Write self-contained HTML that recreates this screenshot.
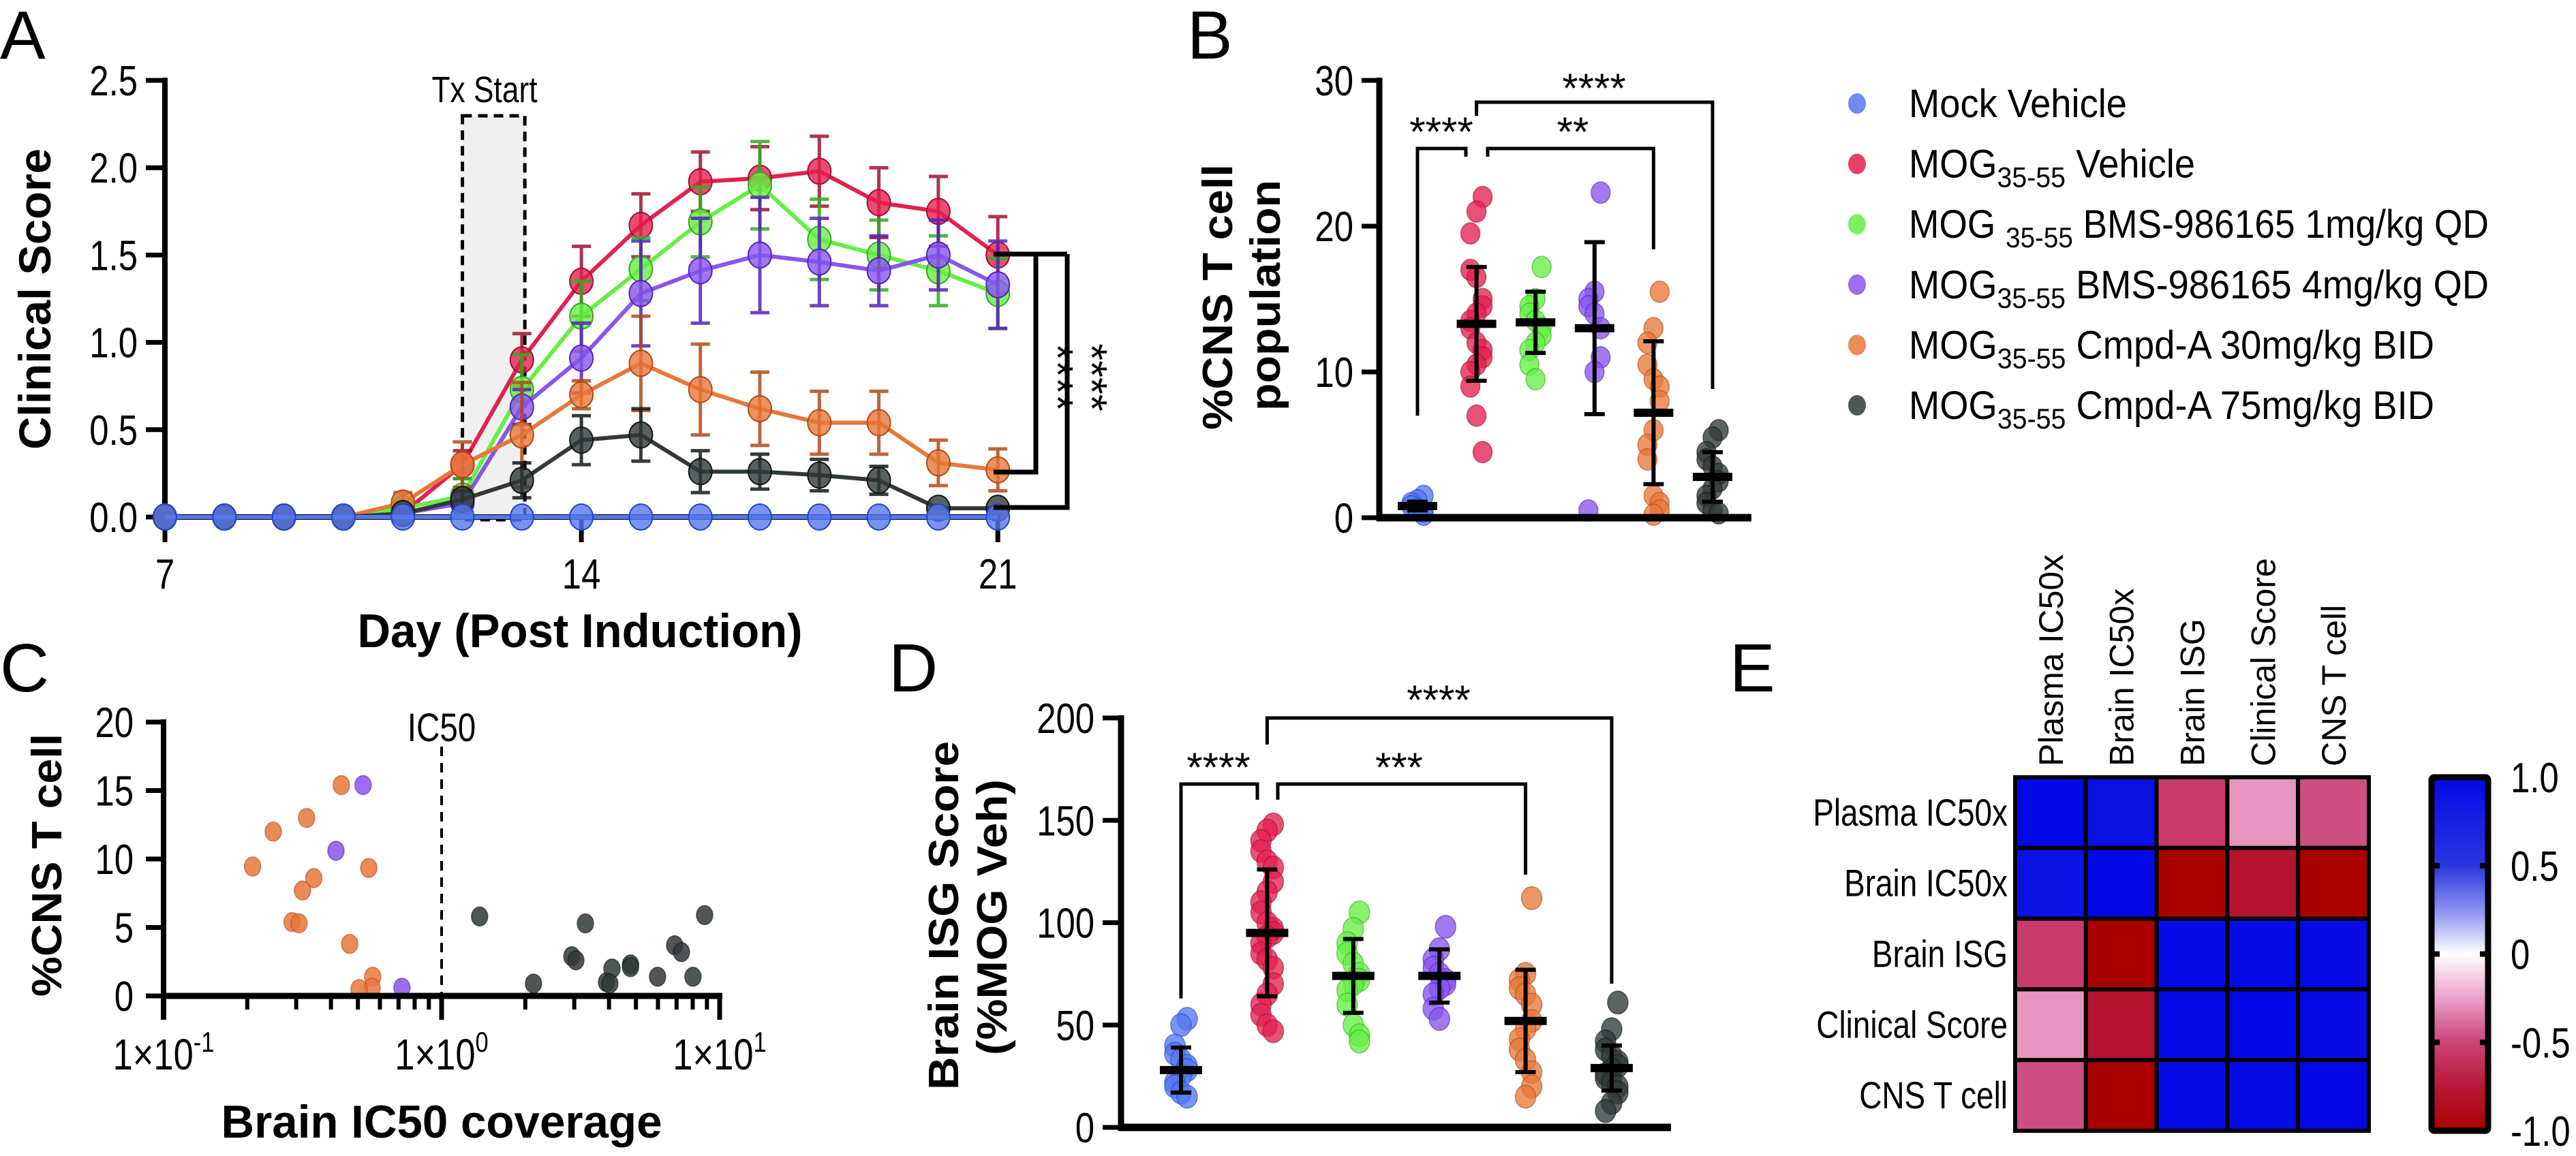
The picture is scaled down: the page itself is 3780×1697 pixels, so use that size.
<!DOCTYPE html>
<html><head><meta charset="utf-8"><style>
html,body{margin:0;padding:0;background:#fff;width:3780px;height:1697px;overflow:hidden}
svg{display:block}
text{font-family:"Liberation Sans Narrow","Liberation Sans",sans-serif;fill:#000}
.b{font-weight:bold}
.w{font-family:"Liberation Sans",sans-serif}
</style></head><body>
<svg id="fig" xmlns="http://www.w3.org/2000/svg" width="3780" height="1697" viewBox="0 0 3780 1697">
<defs>
<linearGradient id="cbar" x1="0" y1="0" x2="0" y2="1">
<stop offset="0" stop-color="#0508e6"/><stop offset="0.25" stop-color="#2a36e0"/><stop offset="0.375" stop-color="#8a8ff0"/><stop offset="0.5" stop-color="#ffffff"/><stop offset="0.625" stop-color="#eaa0c8"/><stop offset="0.75" stop-color="#cc4478"/><stop offset="0.875" stop-color="#b81838"/><stop offset="1" stop-color="#aa0000"/>
</linearGradient>
</defs>
</svg>
<script>
// ---------- DATA ----------
const groupNames=["Mock Vehicle","MOG35-55 Vehicle","MOG35-55 BMS-986165 1mg/kg QD","MOG35-55 BMS-986165 4mg/kg QD","MOG35-55 Cmpd-A 30mg/kg BID","MOG35-55 Cmpd-A 75mg/kg BID"];
const groupColors=["#5577ee","#e3204f","#66ee44","#8855ee","#e8773a","#2f3a38"];
const groupStroke=["#2244cc","#a01030","#33aa22","#5522bb","#b04a18","#111818"];
// Panel A
const days=[7,8,9,10,11,12,13,14,15,16,17,18,19,20,21];
const aMock=[0,0,0,0,0,0,0,0,0,0,0,0,0,0,0];
const aVeh=[0,0,0,0,0.02,0.3,0.9,1.35,1.67,1.92,1.94,1.98,1.8,1.75,1.5];
const aVehErr=[0,0,0,0,0.02,0.08,0.15,0.2,0.18,0.17,0.18,0.2,0.2,0.2,0.22];
const aB1=[0,0,0,0,0.05,0.12,0.73,1.15,1.42,1.69,1.9,1.59,1.5,1.41,1.28];
const aB1Err=[0,0,0,0,0.04,0.1,0.2,0.2,0.18,0.2,0.25,0.23,0.2,0.2,0.2];
const aB4=[0,0,0,0,0.02,0.08,0.63,0.91,1.28,1.41,1.5,1.46,1.41,1.5,1.33];
const aB4Err=[0,0,0,0,0.02,0.05,0.1,0.2,0.3,0.3,0.33,0.25,0.2,0.2,0.25];
const aA30=[0,0,0,0,0.08,0.3,0.47,0.7,0.88,0.73,0.62,0.54,0.54,0.31,0.27];
const aA30Err=[0,0,0,0,0.06,0.13,0.3,0.08,0.27,0.26,0.21,0.18,0.18,0.13,0.12];
const aA75=[0,0,0,0,0.02,0.1,0.21,0.44,0.47,0.26,0.26,0.24,0.21,0.05,0.05];
const aA75Err=[0,0,0,0,0.02,0.05,0.1,0.14,0.15,0.12,0.1,0.09,0.08,0,0];
const aYTicks=[0,0.5,1.0,1.5,2.0,2.5];
const aYTickLabels=["0.0","0.5","1.0","1.5","2.0","2.5"];
const aXTicks=[7,14,21];
const txStartDay=12, txEndDay=13.05;
// Panel B
const bPts=[
 [1.5,1.2,1.0,0.8,0.6,0.4,0.2],
 [22,21,19.5,17,16.5,15,14.5,14,13.5,13,12,11.5,11,10.5,10,9,7,4.5],
 [17.2,15,14.5,14,13.5,13,12.5,12,11.5,10.5,9.5],
 [22.3,15.5,15,14.5,14,13,11,10,0.5],
 [15.5,13,12,10.5,9.5,9,8,6,5,4,1.5,1,0.5,0.2],
 [6,5.5,4.5,4,3.5,3,2.5,2,1.5,1,0.5,0.3]];
const bMean=[0.8,13.3,13.4,13.0,7.2,2.8];
const bSD=[0.3,3.9,2.1,5.9,4.9,1.7];
const bYTicks=[0,10,20,30];
// Panel C
const cOrX=[0.436,0.327,0.248,0.209,0.547,0.347,0.316,0.29,0.307,0.467,0.565,0.562,0.505];
const cOrY=[15.4,13.0,12.0,9.45,9.35,8.6,7.7,5.4,5.3,3.8,1.4,0.6,0.5];
const cPuX=[0.522,0.417,0.72];
const cPuY=[15.4,10.6,0.6];
const cBkX=[1.37,2.14,2.94,3.04,3.29,3.92,4.1,4.78,4.78,5.98,6.89,7.29,8.02,8.83,4.03];
const cBkY=[5.8,0.9,2.9,2.6,5.3,1.0,2.0,2.3,2.1,1.4,3.7,3.2,1.4,5.9,0.9];
const cYTicks=[0,5,10,15,20];
// Panel D
const dPts=[
 [53,50,40,36,33,30,28,25,22,20,17,15],
 [148,145,140,135,130,127,120,115,110,105,100,97,95,93,90,85,82,78,70,65,60,55,50,47],
 [105,97,90,85,80,75,72,70,67,60,50,45,42],
 [98,87,82,78,75,72,70,68,65,58,53],
 [112,75,72,68,65,60,52,48,43,38,33,27,20,15],
 [61,48,42,38,35,32,30,28,26,24,22,20,17,12,8]];
const dMean=[28,95,74,74,52,29];
const dSD=[11,31,18,13,25,11];
const dYTicks=[0,50,100,150,200];
// Panel E
const eLabels=["Plasma IC50x","Brain IC50x","Brain ISG","Clinical Score","CNS T cell"];
const eMatrix=[
 [1,0.9,-0.55,-0.28,-0.47],
 [0.9,1,-1,-0.8,-1],
 [-0.55,-1,0.97,0.97,0.97],
 [-0.28,-0.8,0.97,1,0.97],
 [-0.47,-1,0.97,0.97,1]];
const eTicks=[1.0,0.5,0,-0.5,-1.0];
const eTickLabels=["1.0","0.5","0","-0.5","-1.0"];

// ---------- HELPERS ----------
const NS="http://www.w3.org/2000/svg";
const svg=document.getElementById("fig");
function mk(tag,attrs,parent){const e=document.createElementNS(NS,tag);for(const k in attrs)e.setAttribute(k,attrs[k]);(parent||svg).appendChild(e);return e;}
function T(str,x,y,fs,opts){opts=opts||{};const a={x:x,y:y,"font-size":fs};if(opts.anchor)a["text-anchor"]=opts.anchor;if(opts.cls)a["class"]=opts.cls;if(opts.len){a.textLength=opts.len;a.lengthAdjust="spacingAndGlyphs";}if(opts.rot)a.transform="rotate(-90 "+x+" "+y+")";const t=mk("text",a,opts.parent);t.textContent=str;return t;}
function line(x1,y1,x2,y2,w,c,p){return mk("line",{x1:x1,y1:y1,x2:x2,y2:y2,stroke:c||"#000","stroke-width":w},p);}
function G(){return mk("g",{});}

// ---------- PANEL LETTERS ----------
[["A",0,86],["B",1742,86],["C",0,1015],["D",1304,1015],["E",2538,1015]].forEach(function(L){
 const t=T(L[0],L[1],L[2],100,{cls:"w"});
 
 
});

// ---------- PANEL A ----------
const xA=d=>242+(d-7)*87.3;
const yA=v=>759-v*256.4;
const gA=G();


const tx=mk("rect",{x:xA(txStartDay),y:170,width:xA(txEndDay)-xA(txStartDay),height:593,fill:"#f0f0f0",stroke:"#000","stroke-width":5,"stroke-dasharray":"14,9"},gA);


const txl=T("Tx Start",711,150,54,{anchor:"middle",parent:gA});


const aAxY=line(242,114,242,763,8,"#000",gA);


const aAxX=line(238,759,1468,759,8,"#000",gA);


aYTicks.forEach(function(v,i){
 line(214,yA(v),242,yA(v),7,"#000",gA);
 const t=T(aYTickLabels[i],202,yA(v)+22,62,{anchor:"end",parent:gA});
 
 
});
aXTicks.forEach(function(d){
 line(xA(d),759,xA(d),796,7,"#000",gA);
 const t=T(String(d),xA(d),864,62,{anchor:"middle",parent:gA});
 
 
});
const aYT=T("Clinical Score",74,660,66,{cls:"b w",rot:true,len:442,parent:gA});


const aXT=T("Day (Post Induction)",851,950,70,{anchor:"middle",cls:"b",len:653,parent:gA});


const aSeries=[[aVeh,aVehErr,1],[aB1,aB1Err,2],[aB4,aB4Err,3],[aA30,aA30Err,4],[aA75,aA75Err,5],[aMock,aMock,0]];
aSeries.forEach(function(s){
 const vals=s[0],errs=s[1],gi=s[2];
 const g=mk("g",{},gA);
 
 
 let d="";
 vals.forEach(function(v,i){d+=(i?"L":"M")+xA(days[i])+","+yA(v);});
 const pl=mk("path",{d:d,fill:"none",stroke:groupColors[gi],"stroke-width":6},g);
 
 
 vals.forEach(function(v,i){
  const e=errs[i];
  if(e>0){
   const x=xA(days[i]);
   const eb=mk("path",{d:"M"+x+","+yA(v-e)+"V"+yA(v+e)+"M"+(x-14)+","+yA(v+e)+"H"+(x+14)+"M"+(x-14)+","+yA(v-e)+"H"+(x+14),stroke:groupStroke[gi],"stroke-width":5,fill:"none",opacity:0.85},g);
   
   
  }
  const c=mk("ellipse",{cx:xA(days[i]),cy:yA(v),rx:17,ry:19,fill:groupColors[gi],"fill-opacity":0.8,stroke:groupStroke[gi],"stroke-width":2},g);
  
  
 });
});
const aBr=mk("path",{d:"M1458,373H1566M1520,373V693H1458M1566,373V745H1458",fill:"none",stroke:"#000","stroke-width":7},gA);


["****","****"].forEach(function(s,i){
 const x=[1530,1580][i];
 const t=mk("text",{x:x,y:554,"font-size":64,"text-anchor":"middle",transform:"rotate(90 "+x+" 554)"},gA);
 t.textContent=s;
 
 
});

// ---------- PANEL B ----------
const yB=v=>760-v*21.4;
const xB=i=>2080+i*86.6;
const gB=G();


function dotPlot(g,pts,mean,sd,xf,yf,r,mw){
 pts.forEach(function(arr,gi){
  const gg=mk("g",{},g);
  
  
  arr.forEach(function(v,j){
   const off=((j%3)-1)*9*((j%2)?1:-1);
   const c=mk("ellipse",{cx:xf(gi)+off,cy:yf(v),rx:r,ry:r*1.12,fill:groupColors[gi],"fill-opacity":0.78,stroke:groupStroke[gi],"stroke-width":1.5,"stroke-opacity":0.6},gg);
   
   
  });
  const x=xf(gi);
  const eb=mk("path",{d:"M"+x+","+yf(mean[gi]-sd[gi])+"V"+yf(mean[gi]+sd[gi])+"M"+(x-15)+","+yf(mean[gi]+sd[gi])+"H"+(x+15)+"M"+(x-15)+","+yf(mean[gi]-sd[gi])+"H"+(x+15),stroke:"#000","stroke-width":6,fill:"none"},gg);
  
  
  const mb=mk("rect",{x:x-mw/2,y:yf(mean[gi])-6,width:mw,height:12,fill:"#000"},gg);
  
  
 });
}
dotPlot(gB,bPts,bMean,bSD,xB,yB,14,58);
const bAxY=line(2024,114,2024,765,9,"#000",gB);


const bAxX=line(2020,760,2570,760,11,"#000",gB);


bYTicks.forEach(function(v){
 line(1998,yB(v),2024,yB(v),7,"#000",gB);
 const t=T(String(v),1986,yB(v)+22,62,{anchor:"end",parent:gB});
 
 
});
const bYT1=T("%CNS T cell",1808,631,62,{cls:"b w",rot:true,len:390,parent:gB});


const bYT2=T("population",1878,603,62,{cls:"b w",rot:true,len:339,parent:gB});


const bBr=mk("path",{d:"M"+xB(0)+","+yB(7)+"V218H2151V230M2183,230V218H"+xB(4)+"V366M"+xB(1)+",170V150H"+xB(5)+"V571",fill:"none",stroke:"#000","stroke-width":5},gB);


[["****",2115,214],["**",2308,214],["****",2339,150]].forEach(function(s){
 const t=T(s[0],s[1],s[2],60,{anchor:"middle",parent:gB});
 
 
});

// ---------- LEGEND ----------
const gL=G();


const legLens=[320,420,851,851,771,771];
groupNames.forEach(function(n,i){
 const y=152+i*88.6;
 const g=mk("g",{},gL);
 
 
 const m=mk("ellipse",{cx:2725,cy:y,rx:13,ry:15,fill:groupColors[i],"fill-opacity":0.85},g);
 
 
 const t=mk("text",{x:2801,y:y+20,"font-size":58,textLength:legLens[i],lengthAdjust:"spacingAndGlyphs"},g);
 
 
 if(n.indexOf("MOG35-55")===0){
  const t1=mk("tspan",{},t);t1.textContent=(i===2?"MOG ":"MOG");
  const t2=mk("tspan",{"font-size":42,dy:14},t);t2.textContent="35-55";
  const t3=mk("tspan",{dy:-14},t);t3.textContent=n.slice(8);
 } else t.textContent=n;
});

// ---------- PANEL C ----------
const xC=v=>240+(Math.log10(v)+1)*408;
const yC=v=>1462-v*20.1;
const gC=G();


const ic=line(xC(1),1096,xC(1),1462,4,"#000",gC);
ic.setAttribute('stroke-dasharray','14,10');


const icl=T("IC50",xC(1),1088,58,{anchor:"middle",parent:gC});


[[cOrX,cOrY,4],[cPuX,cPuY,3],[cBkX,cBkY,5]].forEach(function(s){
 s[0].forEach(function(xv,i){
  const c=mk("ellipse",{cx:xC(xv),cy:yC(s[1][i]),rx:12,ry:14,fill:groupColors[s[2]],"fill-opacity":0.85,stroke:groupStroke[s[2]],"stroke-width":1.5,"stroke-opacity":0.6},gC);
  
  
 });
});
const cAxY=line(240,1056,240,1497,8,"#000",gC);


const cAxX=line(236,1462,1060,1462,9,"#000",gC);


cYTicks.forEach(function(v){
 line(214,yC(v),240,yC(v),7,"#000",gC);
 const t=T(String(v),196,yC(v)+22,62,{anchor:"end",parent:gC});
 
 
});
[0.1,1,10].forEach(function(d,k){
 line(xC(d),1462,xC(d),1497,7,"#000",gC);
 if(k<2){for(let m=2;m<10;m++)line(xC(d*m),1462,xC(d*m),1482,6,"#000",gC);}
 const t=mk("text",{x:xC(d),y:1570,"font-size":64,"text-anchor":"middle"},gC);
 
 
 const a=mk("tspan",{},t);a.textContent="1×10";
 const b=mk("tspan",{"font-size":42,dy:-26},t);b.textContent=["-1","0","1"][k];
});
const cYT=T("%CNS T cell",90,1463,62,{cls:"b w",rot:true,len:386,parent:gC});


const cXT=T("Brain IC50 coverage",648,1670,68,{anchor:"middle",cls:"b",len:647,parent:gC});



// ---------- PANEL D ----------
const yD=v=>1655-v*3.005;
const xD=i=>1733+i*126.4;
const gD=G();


dotPlot(gD,dPts,dMean,dSD,xD,yD,15,62);
const dAxY=line(1645,1050,1645,1660,9,"#000",gD);


const dAxX=line(1641,1655,2452,1655,11,"#000",gD);


dYTicks.forEach(function(v){
 line(1618,yD(v),1645,yD(v),7,"#000",gD);
 const t=T(String(v),1606,yD(v)+22,62,{anchor:"end",parent:gD});
 
 
});
const dYT1=T("Brain ISG Score",1406,1600,62,{cls:"b w",rot:true,len:512,parent:gD});


const dYT2=T("(%MOG Veh)",1477,1549,62,{cls:"b w",rot:true,len:405,parent:gD});


const dBr=mk("path",{d:"M"+xD(0)+","+yD(63)+"V1151H1845V1174M1875,1174V1151H"+xD(4)+"V1284M"+xD(1)+",1093V1054H"+xD(5)+"V1444",fill:"none",stroke:"#000","stroke-width":5},gD);


[["****",1788,1147],["***",2053,1147],["****",2111,1048]].forEach(function(s){
 const t=T(s[0],s[1],s[2],60,{anchor:"middle",parent:gD});
 
 
});

// ---------- PANEL E ----------
const stops=[[1,[5,8,230]],[0.5,[42,54,224]],[0.25,[138,143,240]],[0,[255,255,255]],[-0.25,[234,160,200]],[-0.5,[204,68,120]],[-0.75,[184,24,56]],[-1,[170,0,0]]];
function cmap(v){for(let i=0;i<stops.length-1;i++){const a=stops[i],b=stops[i+1];if(v<=a[0]&&v>=b[0]){const t=(a[0]-v)/(a[0]-b[0]);const c=a[1].map((x,k)=>Math.round(x+(b[1][k]-x)*t));return "rgb("+c.join(",")+")";}}return v>0?"rgb(5,8,230)":"rgb(170,0,0)";}
const hx0=2957,hy0=1141,cw=(3476-2957)/5,ch=(1660-1141)/5;
const gE=G();


eMatrix.forEach(function(row,r){
 row.forEach(function(v,c){
  const cell=mk("rect",{x:hx0+c*cw,y:hy0+r*ch,width:cw,height:ch,fill:cmap(v),stroke:"#000","stroke-width":6},gE);
  
  
 });
});
eLabels.forEach(function(l,i){
 const t=T(l,2946,hy0+(i+0.5)*ch+19,56,{anchor:"end",parent:gE});
 
 
 const x=hx0+(i+0.5)*cw+18;
 const t2=T(l,x,1125,50,{cls:"w",rot:true,parent:gE});
 
 
});
const cb=mk("rect",{x:3568,y:1141,width:83,height:519,fill:"url(#cbar)",stroke:"#000","stroke-width":9,rx:4},gE);


const yE=v=>1400.5-v*259.5;
eTicks.forEach(function(v,i){
 if(Math.abs(v)<1){line(3568,yE(v),3580,yE(v),8,"#000",gE);line(3639,yE(v),3651,yE(v),8,"#000",gE);}
 const t=T(eTickLabels[i],3684,yE(v)+22,62,{parent:gE});
 
 
});

// condense non-wide texts (emulate narrow font)
Array.prototype.forEach.call(svg.querySelectorAll("text"),function(t){
 if(t.getAttribute("textLength"))return;
 if((t.getAttribute("class")||"").indexOf("w")>=0)return;
 if(t.textContent.indexOf("*")>=0)return;
 const L=t.getComputedTextLength();
 if(L>0){t.setAttribute("textLength",(L*0.82).toFixed(1));t.setAttribute("lengthAdjust","spacingAndGlyphs");}
});
</script>
</body></html>
